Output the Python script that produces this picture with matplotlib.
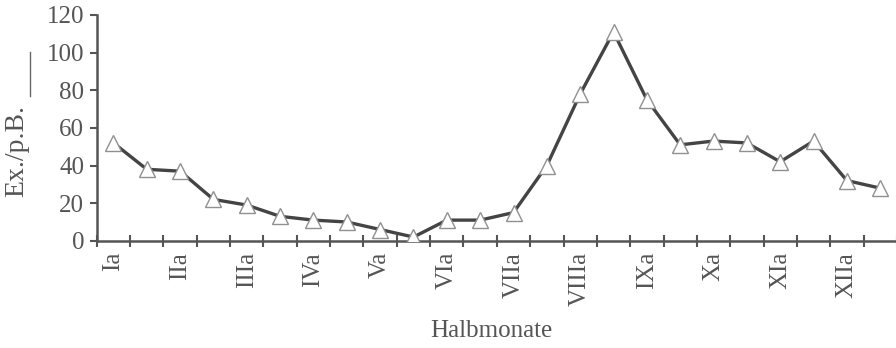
import numpy as np
import matplotlib.pyplot as plt

# half-month values
halbmonate = ["Ia", "Ib", "IIa", "IIb", "IIIa", "IIIb", "IVa", "IVb", "Va", "Vb",
              "VIa", "VIb", "VIIa", "VIIb", "VIIIa", "VIIIb", "IXa", "IXb",
              "Xa", "Xb", "XIa", "XIb", "XIIa", "XIIb"]
ex_pb = [52, 38, 37, 22, 19, 13, 11, 10, 6, 2,
         11, 11, 15, 40, 78, 111, 75, 51,
         53, 52, 42, 53, 32, 28]
y_ticks = [0, 20, 40, 60, 80, 100, 120]

plt.rcParams['font.family'] = ['Liberation Serif', 'DejaVu Serif']
txt = '#555555'

fig = plt.figure(figsize=(8.96, 3.48), dpi=100)
ax = fig.add_axes([0.108, 0.308, 0.893, 0.649])

x = np.arange(len(ex_pb))
ax.plot(x, ex_pb, color='#444444', lw=2.4, zorder=2)
ax.plot(x, ex_pb, ls='none', marker='^', ms=11, mfc='white', mec='#909090',
        mew=1.0, zorder=3)

ax.set_xlim(-0.5, 23.5)
ax.set_ylim(0, 120)
ax.set_yticks(y_ticks)
ax.set_yticklabels([str(v) for v in y_ticks], fontsize=18, color=txt)

# ticks between categories, labels on every other category
ax.set_xticks(np.arange(-0.5, 24, 1.0))
ax.set_xticklabels([])
ax.set_xticks(x[::2], minor=True)
ax.set_xticklabels(halbmonate[::2], minor=True, rotation=90, fontsize=18,
                   color=txt, va='top')
ax.tick_params(axis='x', which='major', direction='inout', length=8,
               width=1.5, color='#555555')
ax.tick_params(axis='x', which='minor', length=0, pad=8)
ax.tick_params(axis='y', direction='out', length=5, width=1.5,
               color='#555555', pad=4)

for s in ['top', 'right']:
    ax.spines[s].set_visible(False)
for s in ['left', 'bottom']:
    ax.spines[s].set_color('#555555')
    ax.spines[s].set_linewidth(1.8)

fig.text(0.019, 0.565, "Ex./p.B.", rotation=90, fontsize=20, color=txt,
         ha='center', va='center')
fig.add_artist(plt.Line2D([0.0335, 0.0335], [0.725, 0.85], color='#666666', lw=1.0))
fig.text(0.548, 0.05, "Halbmonate", fontsize=18, color=txt, ha='center', va='center')

fig.savefig('out.png', dpi=100)
